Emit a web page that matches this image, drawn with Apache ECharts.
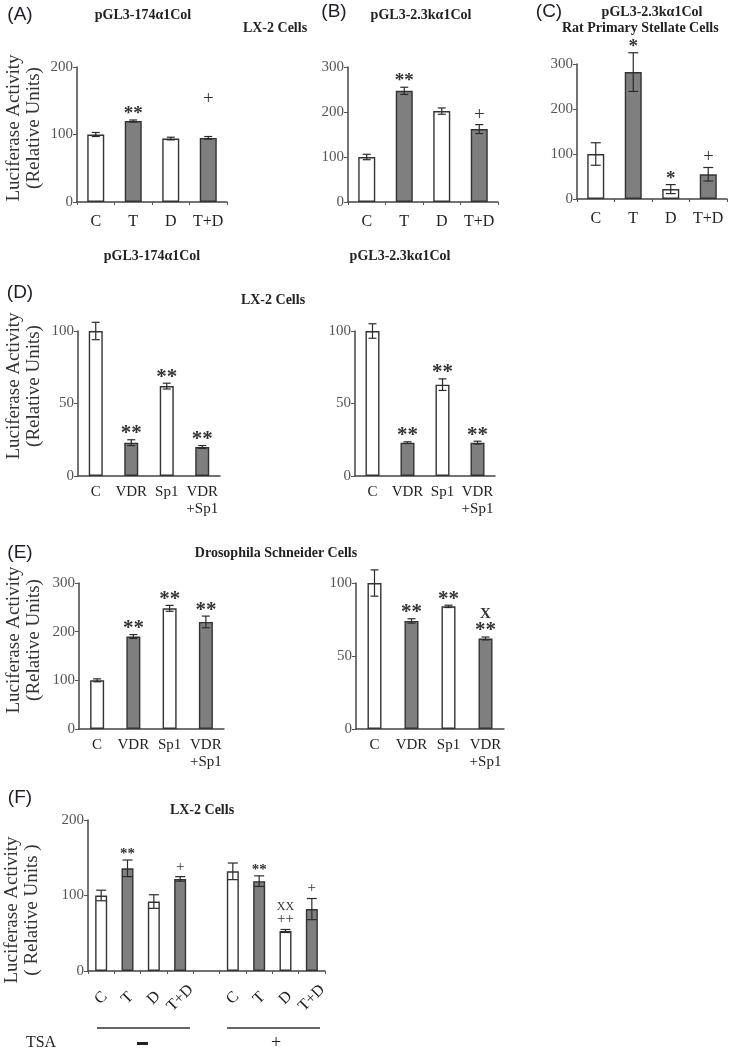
<!DOCTYPE html>
<html><head><meta charset="utf-8">
<script src="https://cdn.jsdelivr.net/npm/echarts@6/dist/echarts.min.js"></script>
<style>html,body{margin:0;padding:0;background:#fff}#c{width:729px;height:1050px}</style>
</head><body><div id="c"></div>
<script>
// ---------- data ----------
const catsTD = ['C', 'T', 'D', 'T+D'];
const catsVS = ['C', 'VDR', 'Sp1', 'VDR\n+Sp1'];
const catsF  = ['C', 'T', 'D', 'T+D', '', 'C', 'T', 'D', 'T+D'];

const valA = [100, 120, 94, 95];   const errA = [3, 1.5, 2, 2];   const annA = ['', '**', '', '+'];
const valB = [100, 247, 202, 162]; const errB = [6, 8, 7, 10];    const annB = ['', '**', '', '+'];
const valC = [100, 282, 22, 55];   const errC = [25, 43, 10, 15]; const annC = ['', '*', '*', '+'];
const valD1 = [100, 23, 62, 20];   const errD1 = [6, 2, 2, 1];    const annD1 = ['', '**', '**', '**'];
const valD2 = [100, 23, 63, 23];   const errD2 = [5, 0.6, 4, 1];  const annD2 = ['', '**', '**', '**'];
const valE1 = [100, 190, 248, 220]; const errE1 = [3, 4, 6, 12];  const annE1 = ['', '**', '**', '**'];
const valE2 = [100, 74, 84, 62];   const errE2 = [9, 1.5, 0.8, 1]; const annE2 = ['', '**', '**', 'X\n**'];
const valF = [100, 136, 92, 122, null, 132, 119, 53, 82];
const errF = [7, 11, 9, 3, null, 11, 7, 2, 14];
const annF = ['', '**', '', '+', '', '', '**', 'XX\n++', '+'];

const yTicks300 = {max: 300, step: 100};
const yTicks200 = {max: 200, step: 100};
const yTicks100 = {max: 100, step: 50};

// ---------- layout ----------
const SERIF = '"Liberation Serif", "Times New Roman", serif';
const SANS = '"Liberation Sans", Arial, sans-serif';

const panels = [
  {cats: catsTD, vals: valA, errs: errA, anns: annA, ticks: yTicks200, grid: {left: 77, top: 67, width: 150, height: 135}, bw: 17, xFont: 16, annFont: 19, upFont: 14, cap: 4, lift: {3: 28}, xTick: true},
  {cats: catsTD, vals: valB, errs: errB, anns: annB, ticks: yTicks300, grid: {left: 348, top: 67, width: 150, height: 135}, bw: 17, xFont: 16, annFont: 19, upFont: 14, cap: 4, xTick: true},
  {cats: catsTD, vals: valC, errs: errC, anns: annC, ticks: yTicks300, grid: {left: 577, top: 64, width: 150, height: 135}, bw: 17, xFont: 16, annFont: 19, upFont: 14, cap: 5, xTick: true},
  {cats: catsVS, vals: valD1, errs: errD1, anns: annD1, ticks: yTicks100, grid: {left: 78, top: 331, width: 142, height: 145}, bw: 14, xFont: 15, annFont: 21, upFont: 14, cap: 4},
  {cats: catsVS, vals: valD2, errs: errD2, anns: annD2, ticks: yTicks100, grid: {left: 355, top: 331, width: 140, height: 145}, bw: 14, xFont: 15, annFont: 21, upFont: 14, cap: 4},
  {cats: catsVS, vals: valE1, errs: errE1, anns: annE1, ticks: yTicks300, grid: {left: 79, top: 583, width: 145, height: 146}, bw: 14, xFont: 15, annFont: 21, upFont: 14, cap: 4},
  {cats: catsVS, vals: valE2, errs: errE2, anns: annE2, ticks: yTicks100, grid: {left: 356, top: 583, width: 148, height: 146}, bw: 14, xFont: 15, annFont: 21, upFont: 15, cap: 4},
  {cats: catsF, vals: valF, errs: errF, anns: annF, ticks: yTicks200, grid: {left: 88, top: 820, width: 237, height: 151}, bw: 12, xFont: 16, annFont: 15, upFont: 12, cap: 5, xTick: true, rotate: true}
];

function isFilled(name) {
  return name === 'T' || name === 'T+D' || name.indexOf('VDR') === 0;
}

function errRender(p) {
  return function (params, api) {
    const idx = params.dataIndex;
    const i = api.value(0), v = api.value(1), e = p.errs[idx];
    if (v == null || isNaN(v)) return;
    const top = api.coord([i, v + e]), bot = api.coord([i, v - e]);
    const x = top[0];
    const ls = {stroke: '#2b2b2b', lineWidth: 1.2};
    const ch = [
      {type: 'line', shape: {x1: x, y1: top[1], x2: x, y2: bot[1]}, style: ls},
      {type: 'line', shape: {x1: x - p.cap, y1: top[1], x2: x + p.cap, y2: top[1]}, style: ls},
      {type: 'line', shape: {x1: x - p.cap, y1: bot[1], x2: x + p.cap, y2: bot[1]}, style: ls}
    ];
    const t = p.anns[idx];
    if (t) {
      const lines = t.split('\n');
      const last = lines[lines.length - 1];
      const star = last.indexOf('*') >= 0;
      const extra = (p.lift && p.lift[idx]) || 0;
      let cy = top[1] - (star ? 6 : 10) - extra;
      ch.push({type: 'text', x: x, y: cy,
        style: {text: last, align: 'center', verticalAlign: 'middle',
          font: (star ? 'bold ' : '') + p.annFont + 'px ' + SERIF, fill: '#333'}});
      cy -= star ? 17 : 13;
      for (let j = lines.length - 2; j >= 0; j--) {
        ch.push({type: 'text', x: x, y: cy,
          style: {text: lines[j], align: 'center', verticalAlign: 'middle',
            font: (star ? 'bold ' : '') + p.upFont + 'px ' + SERIF, fill: '#333'}});
        cy -= 13;
      }
    }
    return {type: 'group', children: ch};
  };
}

const grids = [], xAxes = [], yAxes = [], series = [];
panels.forEach((p, k) => {
  grids.push(Object.assign({containLabel: false}, p.grid));
  xAxes.push({
    type: 'category', gridIndex: k, data: p.cats,
    axisLine: {lineStyle: {color: '#444', width: 1.5}},
    axisTick: {show: !!p.xTick, length: 3, lineStyle: {color: '#555'}},
    axisLabel: p.rotate ?
      {interval: 0, rotate: 45, align: 'center', verticalAlign: 'middle', margin: 27,
        fontFamily: SERIF, fontSize: p.xFont, color: '#222'} :
      {interval: 0, margin: p.xFont === 16 ? 11 : 8, fontFamily: SERIF, fontSize: p.xFont,
        color: '#222', lineHeight: 17, verticalAlign: 'top'},
    splitLine: {show: false}
  });
  yAxes.push({
    type: 'value', gridIndex: k, min: 0, max: p.ticks.max, interval: p.ticks.step,
    axisLine: {show: true, lineStyle: {color: '#444', width: 1.5}},
    axisTick: {show: true, length: 4, lineStyle: {color: '#555'}},
    axisLabel: {margin: 4, fontFamily: SERIF, fontSize: 15, color: '#555'},
    splitLine: {show: false}
  });
  series.push({
    type: 'bar', xAxisIndex: k, yAxisIndex: k, barWidth: p.bw, silent: true,
    data: p.vals.map((v, i) => ({
      value: v == null ? '-' : v,
      itemStyle: {color: isFilled(p.cats[i]) ? '#7f7f7f' : '#ffffff', borderColor: '#333', borderWidth: 1.4}
    }))
  });
  series.push({
    type: 'custom', xAxisIndex: k, yAxisIndex: k, z: 5, silent: true,
    renderItem: errRender(p),
    data: p.vals.map((v, i) => [i, v == null ? NaN : v])
  });
});

function txt(x, y, s, font, opts) {
  return Object.assign({type: 'text', x: x, y: y, silent: true,
    style: Object.assign({text: s, font: font, fill: '#222', align: 'center', verticalAlign: 'middle'}, opts || {})});
}
const bold14 = 'bold 14px ' + SERIF;
const letter = '19px ' + SANS;
const yname = 'Luciferase Activity\n(Relative Units)';
const yname2 = 'Luciferase Activity\n( Relative Units )';

const graphics = [
  txt(20, 15, '(A)', letter, {fill: '#1c1c2a'}),
  txt(143, 15, 'pGL3-174α1Col', bold14),
  txt(275, 28, 'LX-2 Cells', bold14),
  txt(334, 12, '(B)', letter, {fill: '#1c1c2a'}),
  txt(421, 15, 'pGL3-2.3kα1Col', bold14),
  txt(549, 12, '(C)', letter, {fill: '#1c1c2a'}),
  txt(652, 12, 'pGL3-2.3kα1Col', bold14),
  txt(562, 28, 'Rat Primary Stellate Cells', bold14, {align: 'left'}),
  txt(152, 256, 'pGL3-174α1Col', bold14),
  txt(400, 256, 'pGL3-2.3kα1Col', bold14),
  txt(20, 293, '(D)', letter, {fill: '#1c1c2a'}),
  txt(273, 300, 'LX-2 Cells', bold14),
  txt(20, 553, '(E)', letter, {fill: '#1c1c2a'}),
  txt(276, 553, 'Drosophila Schneider Cells', bold14),
  txt(20, 798, '(F)', letter, {fill: '#1c1c2a'}),
  txt(202, 810, 'LX-2 Cells', bold14),
  Object.assign(txt(24, 128, yname, '19px ' + SERIF, {fill: '#333', lineHeight: 20}), {rotation: Math.PI / 2}),
  Object.assign(txt(24, 386, yname, '19px ' + SERIF, {fill: '#333', lineHeight: 20}), {rotation: Math.PI / 2}),
  Object.assign(txt(24, 640, yname, '19px ' + SERIF, {fill: '#333', lineHeight: 20}), {rotation: Math.PI / 2}),
  Object.assign(txt(22, 910, yname2, '19px ' + SERIF, {fill: '#333', lineHeight: 20}), {rotation: Math.PI / 2}),
  {type: 'line', silent: true, shape: {x1: 97, y1: 1028, x2: 190, y2: 1028}, style: {stroke: '#333', lineWidth: 1.3}},
  {type: 'line', silent: true, shape: {x1: 227, y1: 1028, x2: 320, y2: 1028}, style: {stroke: '#333', lineWidth: 1.3}},
  txt(41, 1043, 'TSA', '16px ' + SERIF),
  {type: 'rect', silent: true, shape: {x: 137, y: 1042, width: 11, height: 3}, style: {fill: '#222'}},
  txt(276, 1043, '+', '18px ' + SERIF)
];

const chart = echarts.init(document.getElementById('c'), null, {renderer: 'canvas'});
chart.setOption({
  animation: false,
  backgroundColor: '#fff',
  grid: grids, xAxis: xAxes, yAxis: yAxes, series: series,
  graphic: graphics
});
</script></body></html>
